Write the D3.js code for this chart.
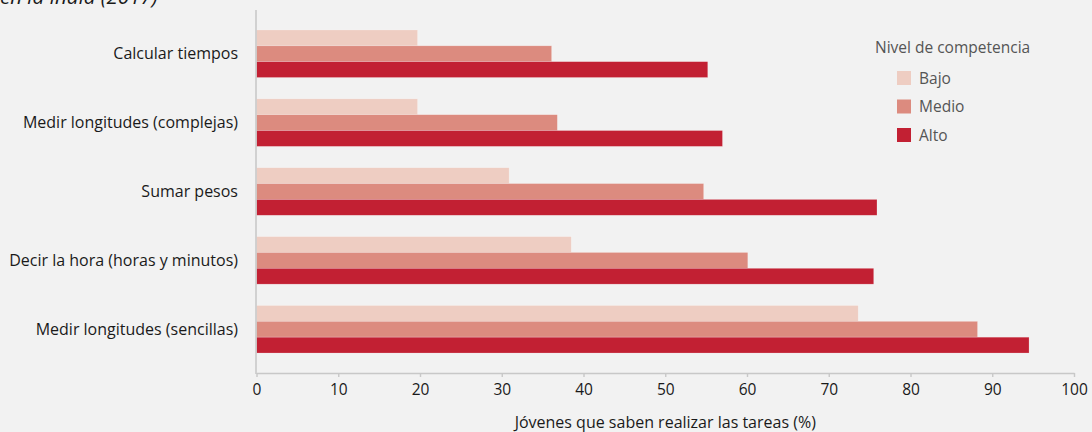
<!DOCTYPE html>
<html>
<head>
<meta charset="utf-8">
<script src="https://cdn.jsdelivr.net/npm/d3@7"></script>
<style>
  body { margin: 0; background: #f2f2f2; }
  svg { display: block; font-family: "Open Sans", "Noto Sans", sans-serif; }
</style>
</head>
<body>
<div class="chart"></div>
<script>
var width = 1092,
    height = 432;

// data
var tareas = ["Calcular tiempos", "Medir longitudes (complejas)", "Sumar pesos",
  "Decir la hora (horas y minutos)", "Medir longitudes (sencillas)"];
var niveles = ["Bajo", "Medio", "Alto"];
var bajo = [19.7, 19.7, 30.9, 38.5, 73.6];
var medio = [36.1, 36.8, 54.7, 60.1, 88.2];
var alto = [55.2, 57.0, 75.9, 75.5, 94.5];
var xTicks = [0, 10, 20, 30, 40, 50, 60, 70, 80, 90, 100];
var colores = ["#eecdc2", "#dc8b7f", "#c22033"];

var series = [bajo, medio, alto];
var rows = tareas.map(function(t, i) {
  return { tarea: t, vals: niveles.map(function(n, j) { return { nivel: n, v: series[j][i] }; }) };
});

var svg = d3.select(".chart").append("svg")
  .attr("width", width).attr("height", height);

svg.append("rect").attr("width", width).attr("height", height).attr("fill", "#f2f2f2");

var x = d3.scaleLinear().domain([0, 100]).range([256.5, 1074]);
var y = d3.scaleBand().domain(tareas).range([10, 373])
  .paddingInner(0.31).paddingOuter(0.29);
var y1 = d3.scaleBand().domain(niveles).range([0, y.bandwidth()]);
var color = d3.scaleOrdinal().domain(niveles).range(colores);

// title line (cut at top of the picture)
svg.append("text").attr("x", 0).attr("y", 4)
  .attr("font-size", 20.5).attr("font-style", "italic").attr("fill", "#1a1a1a")
  .text("en la India (2017)");

// bars
var g = svg.append("g");
g.selectAll("g.grp").data(rows).enter().append("g").attr("class", "grp")
  .attr("transform", function(d) { return "translate(0," + y(d.tarea) + ")"; })
  .selectAll("rect").data(function(d) { return d.vals; }).enter().append("rect")
    .attr("x", x(0))
    .attr("y", function(d) { return y1(d.nivel); })
    .attr("width", function(d) { return x(d.v) - x(0); })
    .attr("height", y1.bandwidth())
    .attr("fill", function(d) { return color(d.nivel); })
    .attr("stroke", "rgba(255,255,255,0.35)").attr("stroke-width", 0.6);

// category labels
svg.selectAll("text.cat").data(tareas).enter().append("text").attr("class", "cat")
  .attr("x", 238)
  .attr("y", function(d) { return y(d) + y.bandwidth() / 2 + 5.5; })
  .attr("text-anchor", "end").attr("font-size", 16).attr("fill", "#1a1a1a")
  .text(function(d) { return d; });

// y axis line
svg.append("line").attr("x1", 256).attr("x2", 256).attr("y1", 10).attr("y2", 374)
  .attr("stroke", "#c8c8c8").attr("stroke-width", 1.6);

// x axis
var xAxis = svg.append("g").attr("transform", "translate(0,373)")
  .call(d3.axisBottom(x).tickValues(xTicks).tickSize(4).tickPadding(7).tickSizeOuter(0));
xAxis.select(".domain").attr("stroke", "#c8c8c8").attr("stroke-width", 1.6);
xAxis.selectAll(".tick line").attr("stroke", "#c8c8c8").attr("stroke-width", 1.4);
xAxis.selectAll(".tick text").attr("font-size", 15.5).attr("fill", "#1a1a1a")
  .attr("font-family", "\"Open Sans\", \"Noto Sans\", sans-serif");

svg.append("text").attr("x", (x(0) + x(100)) / 2).attr("y", 428)
  .attr("text-anchor", "middle").attr("font-size", 16).attr("fill", "#1a1a1a")
  .text("Jóvenes que saben realizar las tareas (%)");

// legend
var leg = svg.append("g").attr("transform", "translate(875,0)");
leg.append("text").attr("x", 0).attr("y", 53).attr("font-size", 15.5).attr("fill", "#555")
  .text("Nivel de competencia");
var li = leg.selectAll("g.li").data(niveles).enter().append("g").attr("class", "li")
  .attr("transform", function(d, i) { return "translate(0," + (71 + i * 28.5) + ")"; });
li.append("rect").attr("x", 22).attr("width", 14).attr("height", 14)
  .attr("fill", function(d) { return color(d); });
li.append("text").attr("x", 44).attr("y", 12.5).attr("font-size", 15.5).attr("fill", "#555")
  .text(function(d) { return d; });
</script>
</body>
</html>
